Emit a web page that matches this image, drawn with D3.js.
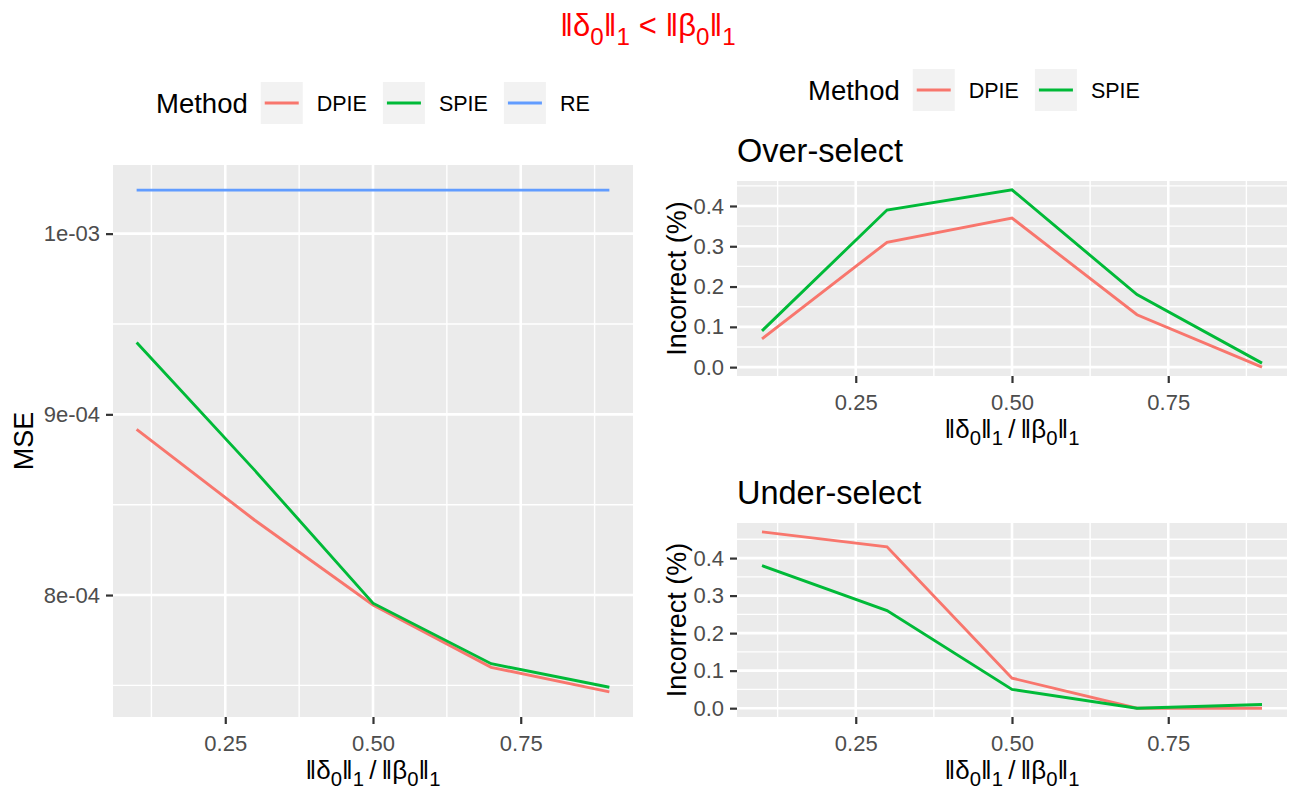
<!DOCTYPE html>
<html lang="en">
<head>
  <meta charset="UTF-8">
  <title>MSE and selection error</title>
  <style>
    body { margin: 0; background: #fff; }
    text { font-family: "Liberation Sans", Arial, Helvetica, sans-serif; }
  </style>
</head>
<body>
  <div id="chart"></div>

  <script src="https://d3js.org/d3.v7.min.js"></script>

  <script>
    // ratio ||delta0||1 / ||beta0||1
    var xVals = [0.1, 0.3, 0.5, 0.7, 0.9];
    var methods = ["DPIE", "SPIE", "RE"];
    var colors = ["#F8766D", "#00BA38", "#619CFF"];

    // left panel: MSE
    var mseDPIE = [8.917e-4, 8.414e-4, 7.945e-4, 7.600e-4, 7.464e-4];
    var mseSPIE = [9.397e-4, 8.690e-4, 7.955e-4, 7.620e-4, 7.490e-4];
    var mseRE   = [1.0241e-3, 1.0241e-3, 1.0241e-3, 1.0241e-3, 1.0241e-3];

    // right panels: incorrect (%)
    var overDPIE  = [0.07, 0.31, 0.37, 0.13, 0.00];
    var overSPIE  = [0.09, 0.39, 0.44, 0.18, 0.01];
    var underDPIE = [0.47, 0.43, 0.08, 0.00, 0.00];
    var underSPIE = [0.38, 0.26, 0.05, 0.00, 0.01];

    // breaks
    var xBreaks = [0.25, 0.5, 0.75];
    var xMinor = [0.125, 0.375, 0.625, 0.875];
    var mseBreaks = [8e-4, 9e-4, 1e-3];
    var mseLabels = ["8e-04", "9e-04", "1e-03"];
    var mseMinor = [7.5e-4, 8.5e-4, 9.5e-4];
    var pctBreaks = [0, 0.1, 0.2, 0.3, 0.4];
    var pctMinor = [0.05, 0.15, 0.25, 0.35, 0.45];

    var svg = d3.select("#chart")
      .append("svg")
      .attr("width", 1290)
      .attr("height", 793);

    // ggplot style 5% expansion
    function expand(lo, hi) {
      var d = (hi - lo) * 0.05;
      return [lo - d, hi + d];
    }

    // text with subscripts, parts = [[string, isSub], ...]
    function mathText(sel, parts, size) {
      var inSub = false;
      parts.forEach(function(p) {
        var t = sel.append("tspan").text(p[0]);
        if (p[1] && !inSub) t.attr("dy", size * 0.28);
        if (!p[1] && inSub) t.attr("dy", -size * 0.28);
        t.style("font-size", (p[1] ? size * 0.78 : size) + "px");
        inSub = p[1];
      });
      return sel;
    }

    var ratioParts = [["\u2016\u03B4", false], ["0", true], ["\u2016", false], ["1", true],
      ["\u2009/\u2009\u2016\u03B2", false], ["0", true], ["\u2016", false], ["1", true]];

    function panel(cfg) {
      var g = svg.append("g");
      var x = d3.scaleLinear()
        .domain(expand(d3.min(xVals), d3.max(xVals)))
        .range([cfg.left, cfg.right]);
      var all = cfg.series.reduce(function(a, s) { return a.concat(s.values); }, []);
      var y = d3.scaleLinear()
        .domain(expand(d3.min(all), d3.max(all)))
        .range([cfg.bottom, cfg.top]);

      g.append("rect")
        .attr("x", cfg.left).attr("y", cfg.top)
        .attr("width", cfg.right - cfg.left)
        .attr("height", cfg.bottom - cfg.top)
        .attr("fill", "#EBEBEB");

      var yMinor = cfg.yMinor.filter(function(v) { return v > y.domain()[0] && v < y.domain()[1]; });

      // minor grid
      g.selectAll(".xminor").data(xMinor).enter().append("line")
        .attr("x1", x).attr("x2", x).attr("y1", cfg.top).attr("y2", cfg.bottom)
        .attr("stroke", "#fff").attr("stroke-width", 1.4);
      g.selectAll(".yminor").data(yMinor).enter().append("line")
        .attr("y1", y).attr("y2", y).attr("x1", cfg.left).attr("x2", cfg.right)
        .attr("stroke", "#fff").attr("stroke-width", 1.4);
      // major grid
      g.selectAll(".xmajor").data(xBreaks).enter().append("line")
        .attr("x1", x).attr("x2", x).attr("y1", cfg.top).attr("y2", cfg.bottom)
        .attr("stroke", "#fff").attr("stroke-width", 2.6);
      g.selectAll(".ymajor").data(cfg.yBreaks).enter().append("line")
        .attr("y1", y).attr("y2", y).attr("x1", cfg.left).attr("x2", cfg.right)
        .attr("stroke", "#fff").attr("stroke-width", 2.6);

      // lines
      var line = d3.line()
        .x(function(d, i) { return x(xVals[i]); })
        .y(function(d) { return y(d); });
      cfg.series.forEach(function(s) {
        g.append("path")
          .attr("d", line(s.values))
          .attr("fill", "none")
          .attr("stroke", s.color)
          .attr("stroke-width", 2.9);
      });

      // axes
      var xAxis = g.append("g")
        .attr("transform", "translate(0," + cfg.bottom + ")")
        .call(d3.axisBottom(x).tickValues(xBreaks).tickFormat(d3.format(".2f"))
          .tickSize(7).tickPadding(11));
      var yAxis = g.append("g")
        .attr("transform", "translate(" + cfg.left + ",0)")
        .call(d3.axisLeft(y).tickValues(cfg.yBreaks).tickFormat(cfg.yFormat)
          .tickSize(7).tickPadding(6));
      [xAxis, yAxis].forEach(function(a) {
        a.select(".domain").remove();
        a.selectAll(".tick line").attr("stroke", "#333").attr("stroke-width", 2.2);
        a.selectAll(".tick text")
          .attr("fill", "#4D4D4D")
          .style("font-size", "22px")
          .style("font-family", "'Liberation Sans', Arial, sans-serif");
      });

      // x title
      mathText(g.append("text")
        .attr("x", (cfg.left + cfg.right) / 2)
        .attr("y", cfg.bottom + 62)
        .attr("text-anchor", "middle")
        .attr("fill", "#000"), ratioParts, 26);

      // y title
      var cy = (cfg.top + cfg.bottom) / 2;
      g.append("text")
        .attr("transform", "translate(" + cfg.yTitleX + "," + cy + ") rotate(-90)")
        .attr("text-anchor", "middle")
        .style("font-size", "27px")
        .text(cfg.yTitle);

      if (cfg.title) {
        g.append("text")
          .attr("x", cfg.left)
          .attr("y", cfg.top - 19)
          .style("font-size", "32.5px")
          .text(cfg.title);
      }
    }

    function legend(x0, cy, names) {
      var g = svg.append("g");
      var t = g.append("text")
        .attr("x", x0).attr("y", cy + 9.5)
        .style("font-size", "27.5px")
        .text("Method");
      var cx = x0 + t.node().getComputedTextLength() + 13;
      names.forEach(function(n, i) {
        g.append("rect")
          .attr("x", cx).attr("y", cy - 21)
          .attr("width", 42).attr("height", 42)
          .attr("fill", "#F2F2F2");
        g.append("line")
          .attr("x1", cx + 4).attr("x2", cx + 38)
          .attr("y1", cy).attr("y2", cy)
          .attr("stroke", colors[i]).attr("stroke-width", 2.9);
        var lt = g.append("text")
          .attr("x", cx + 56).attr("y", cy + 7.5)
          .style("font-size", "21.5px")
          .text(n);
        cx = cx + 56 + lt.node().getComputedTextLength() + 16;
      });
    }

    // main title
    mathText(svg.append("text")
      .attr("x", 648).attr("y", 36)
      .attr("text-anchor", "middle")
      .attr("fill", "#FF0000"),
      [["\u2016\u03B4", false], ["0", true], ["\u2016", false], ["1", true],
       [" < \u2016\u03B2", false], ["0", true], ["\u2016", false], ["1", true]], 31);

    legend(156, 103, methods);
    legend(808, 90, methods.slice(0, 2));

    panel({
      left: 113, right: 633, top: 165, bottom: 717,
      series: [
        {values: mseDPIE, color: colors[0]},
        {values: mseSPIE, color: colors[1]},
        {values: mseRE, color: colors[2]}
      ],
      yBreaks: mseBreaks, yMinor: mseMinor,
      yFormat: function(d, i) { return mseLabels[i]; },
      yTitle: "MSE", yTitleX: 33
    });

    panel({
      left: 737, right: 1287, top: 181, bottom: 376,
      series: [
        {values: overDPIE, color: colors[0]},
        {values: overSPIE, color: colors[1]}
      ],
      yBreaks: pctBreaks, yMinor: pctMinor,
      yFormat: d3.format(".1f"),
      yTitle: "Incorrect (%)", yTitleX: 686,
      title: "Over-select"
    });

    panel({
      left: 737, right: 1287, top: 523, bottom: 717,
      series: [
        {values: underDPIE, color: colors[0]},
        {values: underSPIE, color: colors[1]}
      ],
      yBreaks: pctBreaks, yMinor: pctMinor,
      yFormat: d3.format(".1f"),
      yTitle: "Incorrect (%)", yTitleX: 686,
      title: "Under-select"
    });
  </script>
</body>
</html>
